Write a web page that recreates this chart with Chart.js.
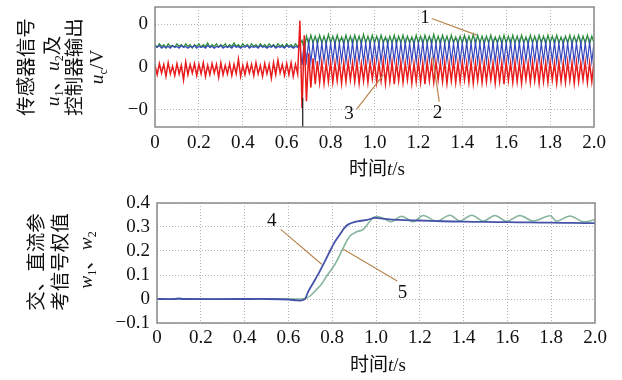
<!DOCTYPE html>
<html><head><meta charset="utf-8">
<script src="https://cdn.jsdelivr.net/npm/chart.js@4"></script>
<style>
html,body{margin:0;padding:0;background:#fff;}
#wrap{position:relative;width:622px;height:380px;overflow:hidden;font-family:"Liberation Serif","Noto Sans CJK SC",serif;color:#111;}
canvas{position:absolute;left:0;}
.yt{position:absolute;white-space:nowrap;font-size:19.5px;line-height:1;transform:translate(-50%,-50%) rotate(-90deg);}
.xt{position:absolute;white-space:nowrap;font-size:19px;line-height:1;transform:translate(-50%,-50%);}
sub{font-size:0.62em;vertical-align:-0.3em;font-style:normal;line-height:0;}
i{font-family:"Liberation Serif",serif;}
</style></head>
<body>
<div id="wrap">
<canvas id="c1" width="622" height="180" style="top:0"></canvas>
<canvas id="c2" width="622" height="200" style="top:180px"></canvas>
<div class="yt" style="left:27px;top:67px">传感器信号</div>
<div class="yt" style="left:53px;top:71px"><i>u</i><sub>1</sub>、<i>u</i><sub>2</sub>及</div>
<div class="yt" style="left:75px;top:67px">控制器输出</div>
<div class="yt" style="left:97px;top:67px"><i>u</i><sub>c</sub>/V</div>
<div class="xt" style="left:377px;top:168px">时间<i>t</i>/s</div>
<div class="yt" style="left:37px;top:262px">交、直流参</div>
<div class="yt" style="left:61px;top:262px">考信号权值</div>
<div class="yt" style="left:86px;top:260px"><i>w</i><sub>1</sub>、<i>w</i><sub>2</sub></div>
<div class="xt" style="left:378px;top:364px">时间<i>t</i>/s</div>
</div>
<script>
// ---------- top plot data ----------
const timeTop = [
0,0.01,0.02,0.03,0.04,0.05,0.06,0.07,0.08,0.09,
0.1,0.11,0.12,0.13,0.14,0.15,0.16,0.17,0.18,0.19,
0.2,0.21,0.22,0.23,0.24,0.25,0.26,0.27,0.28,0.29,
0.3,0.31,0.32,0.33,0.34,0.35,0.36,0.37,0.38,0.39,
0.4,0.41,0.42,0.43,0.44,0.45,0.46,0.47,0.48,0.49,
0.5,0.51,0.52,0.53,0.54,0.55,0.56,0.57,0.58,0.59,
0.6,0.61,0.62,0.63,0.64,0.65,0.66,0.67,0.68,0.69,
0.7,0.71,0.72,0.73,0.74,0.75,0.76,0.77,0.78,0.79,
0.8,0.81,0.82,0.83,0.84,0.85,0.86,0.87,0.88,0.89,
0.9,0.91,0.92,0.93,0.94,0.95,0.96,0.97,0.98,0.99,
1,1.01,1.02,1.03,1.04,1.05,1.06,1.07,1.08,1.09,
1.1,1.11,1.12,1.13,1.14,1.15,1.16,1.17,1.18,1.19,
1.2,1.21,1.22,1.23,1.24,1.25,1.26,1.27,1.28,1.29,
1.3,1.31,1.32,1.33,1.34,1.35,1.36,1.37,1.38,1.39,
1.4,1.41,1.42,1.43,1.44,1.45,1.46,1.47,1.48,1.49,
1.5,1.51,1.52,1.53,1.54,1.55,1.56,1.57,1.58,1.59,
1.6,1.61,1.62,1.63,1.64,1.65,1.66,1.67,1.68,1.69,
1.7,1.71,1.72,1.73,1.74,1.75,1.76,1.77,1.78,1.79,
1.8,1.81,1.82,1.83,1.84,1.85,1.86,1.87,1.88,1.89,
1.9,1.91,1.92,1.93,1.94,1.95,1.96,1.97,1.98,1.99,
2];
// curve 1 (green)
const u1Values = [
0.26,0.23,0.27,0.24,0.26,0.22,0.27,0.24,0.25,0.23,
0.27,0.24,0.26,0.23,0.27,0.24,0.26,0.22,0.26,0.24,
0.27,0.23,0.26,0.24,0.28,0.23,0.26,0.24,0.27,0.23,
0.26,0.24,0.27,0.23,0.26,0.24,0.28,0.24,0.26,0.23,
0.27,0.24,0.26,0.23,0.27,0.24,0.26,0.23,0.27,0.24,
0.26,0.23,0.27,0.24,0.26,0.23,0.27,0.24,0.26,0.23,
0.27,0.24,0.26,0.23,0.27,0.24,0.27,0.31,0.20,0.36,
0.27,0.37,0.28,0.36,0.27,0.37,0.28,0.36,0.27,0.38,
0.28,0.36,0.27,0.37,0.28,0.35,0.27,0.37,0.28,0.36,
0.27,0.37,0.28,0.36,0.27,0.38,0.28,0.36,0.27,0.37,
0.28,0.36,0.27,0.37,0.28,0.35,0.27,0.36,0.28,0.37,
0.27,0.36,0.28,0.37,0.27,0.36,0.28,0.35,0.27,0.37,
0.28,0.36,0.27,0.37,0.28,0.36,0.27,0.38,0.28,0.36,
0.27,0.37,0.28,0.36,0.27,0.37,0.28,0.35,0.27,0.36,
0.28,0.37,0.27,0.36,0.28,0.38,0.27,0.37,0.28,0.36,
0.27,0.36,0.28,0.37,0.27,0.35,0.28,0.36,0.27,0.37,
0.28,0.36,0.27,0.37,0.28,0.36,0.27,0.37,0.28,0.35,
0.27,0.37,0.28,0.36,0.27,0.37,0.28,0.36,0.27,0.37,
0.28,0.36,0.27,0.37,0.28,0.35,0.27,0.36,0.28,0.37,
0.27,0.36,0.28,0.37,0.27,0.36,0.28,0.37,0.27,0.36,
0.28];
// curve 2 (blue)
const u2Values = [
0.24,0.23,0.25,0.22,0.24,0.23,0.24,0.22,0.25,0.23,
0.24,0.22,0.25,0.23,0.24,0.22,0.24,0.23,0.25,0.22,
0.24,0.23,0.24,0.22,0.25,0.23,0.24,0.22,0.24,0.23,
0.25,0.22,0.24,0.23,0.24,0.22,0.25,0.23,0.24,0.22,
0.24,0.23,0.25,0.22,0.24,0.23,0.24,0.22,0.25,0.23,
0.24,0.22,0.24,0.23,0.25,0.22,0.24,0.23,0.24,0.22,
0.25,0.23,0.24,0.22,0.24,0.23,0.26,0.02,0.31,0.07,
0.29,0.06,0.28,0.07,0.29,0.06,0.28,0.07,0.29,0.06,
0.28,0.07,0.29,0.06,0.28,0.07,0.29,0.06,0.28,0.07,
0.29,0.06,0.28,0.07,0.29,0.06,0.28,0.07,0.29,0.06,
0.28,0.07,0.29,0.06,0.28,0.07,0.29,0.06,0.28,0.07,
0.29,0.06,0.28,0.07,0.29,0.06,0.28,0.07,0.29,0.06,
0.28,0.07,0.29,0.06,0.28,0.07,0.29,0.06,0.28,0.07,
0.29,0.06,0.28,0.07,0.29,0.06,0.28,0.07,0.29,0.06,
0.28,0.07,0.29,0.06,0.28,0.07,0.29,0.06,0.28,0.07,
0.29,0.06,0.28,0.07,0.29,0.06,0.28,0.07,0.29,0.06,
0.28,0.07,0.29,0.06,0.28,0.07,0.29,0.06,0.28,0.07,
0.29,0.06,0.28,0.07,0.29,0.06,0.28,0.07,0.29,0.06,
0.28,0.07,0.29,0.06,0.28,0.07,0.29,0.06,0.28,0.07,
0.29,0.06,0.28,0.07,0.29,0.06,0.28,0.07,0.29,0.06,
0.28];
// curve 3 (red)
const ucValues = [
0.02,-0.09,0.04,-0.07,0.03,-0.11,0.05,-0.08,0.01,-0.10,
0.04,-0.08,0.02,-0.15,0.06,-0.09,0.03,-0.07,0.04,-0.10,
0.03,-0.08,0.05,-0.11,0.02,-0.09,0.04,-0.07,0.03,-0.12,
0.05,-0.09,0.02,-0.08,0.04,-0.10,0.03,-0.08,0.09,-0.11,
0.02,-0.09,0.04,-0.07,0.03,-0.10,0.05,-0.08,0.02,-0.11,
0.04,-0.08,0.03,-0.13,0.05,-0.09,0.08,-0.07,0.03,-0.10,
0.04,-0.09,0.05,-0.11,0.03,-0.08,0.54,-0.48,0.37,-0.40,
0.16,-0.24,0.10,-0.20,0.07,-0.18,0.06,-0.19,0.05,-0.17,
0.06,-0.18,0.05,-0.16,0.06,-0.19,0.05,-0.17,0.06,-0.15,
0.05,-0.17,0.06,-0.19,0.04,-0.16,0.06,-0.18,0.05,-0.14,
0.06,-0.18,0.05,-0.16,0.07,-0.19,0.05,-0.17,0.06,-0.20,
0.05,-0.16,0.06,-0.18,0.05,-0.15,0.06,-0.19,0.04,-0.17,
0.06,-0.18,0.05,-0.20,0.06,-0.16,0.05,-0.18,0.06,-0.15,
0.05,-0.17,0.06,-0.19,0.05,-0.16,0.07,-0.18,0.05,-0.17,
0.06,-0.15,0.05,-0.18,0.06,-0.19,0.05,-0.16,0.06,-0.18,
0.05,-0.17,0.06,-0.15,0.05,-0.19,0.06,-0.17,0.05,-0.20,
0.06,-0.16,0.05,-0.18,0.06,-0.17,0.05,-0.19,0.06,-0.15,
0.05,-0.18,0.06,-0.16,0.05,-0.19,0.06,-0.17,0.05,-0.18,
0.06,-0.15,0.05,-0.19,0.06,-0.17,0.05,-0.18,0.06,-0.16,
0.05,-0.19,0.06,-0.17,0.05,-0.15,0.06,-0.18,0.05,-0.17,
0.06];
// dark spike at switching instant
const spikeTime = [0.673, 0.673];
const spikeValues = [-0.36, -0.70];

// ---------- bottom plot data ----------
// curve 4 (blue)
const w1Time = [0,0.08,0.1,0.12,0.4,0.5,0.6,0.64,0.66,0.676,0.69,0.714,0.74,0.76,0.79,0.81,0.836,0.855,0.874,0.9,0.927,0.96,0.995,1.05,1.1,1.2,1.3,1.4,1.5,1.6,1.7,1.8,1.9,2.0];
const w1Values = [0,0,0.002,0,0,0,-0.002,-0.006,-0.006,0,0.03,0.068,0.11,0.145,0.2,0.235,0.27,0.295,0.311,0.32,0.325,0.33,0.338,0.333,0.33,0.327,0.324,0.322,0.321,0.32,0.319,0.318,0.317,0.316];
// curve 5 (green)
const w2Time = [0,0.6,0.66,0.68,0.699,0.729,0.75,0.775,0.813,0.851,0.881,0.912,0.942,0.973,0.995,1.026,1.07,1.117,1.17,1.216,1.277,1.338,1.383,1.437,1.49,1.543,1.597,1.657,1.718,1.795,1.825,1.886,1.946,2.0];
const w2Values = [0,0,0,0.003,0.0125,0.04,0.06,0.096,0.145,0.214,0.2625,0.28,0.29,0.325,0.343,0.339,0.322,0.345,0.322,0.348,0.324,0.349,0.325,0.349,0.325,0.348,0.324,0.348,0.325,0.347,0.324,0.346,0.322,0.33];

// ---------- ticks ----------
const xTickValues = [0,0.2,0.4,0.6,0.8,1.0,1.2,1.4,1.6,1.8,2.0];
const xTickLabels = ['0','0.2','0.4','0.6','0.8','1.0','1.2','1.4','1.6','1.8','2.0'];
const yTopTickValues = [-0.5,0,0.5];
const yTopTickLabels = ['\u22120','0','0'];
const yBotTickValues = [-0.1,0,0.1,0.2,0.3,0.4];
const yBotTickLabels = ['\u22120.1','0','0.1','0.2','0.3','0.4'];

// ---------- callout annotations (data units) ----------
const topCallouts = [
  {label:'1', tx:1.230, ty:0.576, x1:1.261, y1:0.566, x2:1.466, y2:0.372},
  {label:'2', tx:1.287, ty:-0.541, x1:1.295, y1:-0.403, x2:1.265, y2:0.113},
  {label:'3', tx:0.884, ty:-0.547, x1:0.919, y1:-0.492, x2:1.040, y2:-0.093}
];
const botCallouts = [
  {label:'4', tx:0.524, ty:0.325, x1:0.565, y1:0.290, x2:0.752, y2:0.145},
  {label:'5', tx:1.121, ty:0.027, x1:1.097, y1:0.075, x2:0.851, y2:0.207}
];

const pts = (ts, vs) => ts.map((t, i) => ({x: t, y: vs[i]}));
const tickFont = {family: 'Liberation Serif', size: 19};

const framePlugin = {
  id: 'frame',
  afterDatasetsDraw(chart) {
    const {ctx, chartArea: a} = chart;
    ctx.save();
    ctx.strokeStyle = '#8a8a8a';
    ctx.lineWidth = 1.5;
    ctx.strokeRect(a.left, a.top, a.right - a.left, a.bottom - a.top);
    ctx.restore();
  }
};
const calloutPlugin = {
  id: 'callouts',
  afterDatasetsDraw(chart, args, opts) {
    const xs = chart.scales.x, ys = chart.scales.y, ctx = chart.ctx;
    ctx.save();
    ctx.strokeStyle = '#b8864f';
    ctx.lineWidth = 1.2;
    ctx.fillStyle = '#111';
    ctx.font = '19px "Liberation Serif"';
    ctx.textAlign = 'center';
    ctx.textBaseline = 'middle';
    for (const c of opts.items) {
      ctx.beginPath();
      ctx.moveTo(xs.getPixelForValue(c.x1), ys.getPixelForValue(c.y1));
      ctx.lineTo(xs.getPixelForValue(c.x2), ys.getPixelForValue(c.y2));
      ctx.stroke();
      ctx.fillText(c.label, xs.getPixelForValue(c.tx), ys.getPixelForValue(c.ty));
    }
    ctx.restore();
  }
};

function xScale(height, pad) {
  return {
    type: 'linear', min: 0, max: 2,
    afterBuildTicks: s => { s.ticks = xTickValues.map(v => ({value: v})); },
    ticks: {callback: (v, i) => xTickLabels[i], color: '#111', font: tickFont, padding: pad, maxRotation: 0, autoSkip: false},
    grid: {color: '#b4b4b4', lineWidth: 1, drawTicks: false},
    border: {display: false, dash: [1, 2]},
    afterFit: s => { s.height = height; s.paddingLeft = 0; s.paddingRight = 0; }
  };
}
function yScale(width, min, max, vals, labels) {
  return {
    type: 'linear', min: min, max: max,
    afterBuildTicks: s => { s.ticks = vals.map(v => ({value: v})); },
    ticks: {callback: (v, i) => labels[i], color: '#111', font: tickFont, padding: 7, autoSkip: false},
    grid: {color: '#b4b4b4', lineWidth: 1, drawTicks: false},
    border: {display: false, dash: [1, 2]},
    afterFit: s => { s.width = width; s.paddingTop = 0; s.paddingBottom = 0; }
  };
}
const common = {
  responsive: false, animation: false, devicePixelRatio: 1,
  elements: {point: {radius: 0}, line: {tension: 0, fill: false}},
};

new Chart(document.getElementById('c1'), {
  type: 'line',
  data: {datasets: [
    {data: pts(spikeTime, spikeValues), borderColor: '#1a1a1a', borderWidth: 1.2},
    {data: pts(timeTop, ucValues), borderColor: '#e81c1c', borderWidth: 1.5},
    {data: pts(timeTop, u2Values), borderColor: '#3545bb', borderWidth: 1.2},
    {data: pts(timeTop, u1Values), borderColor: '#2a8a3a', borderWidth: 1.3}
  ]},
  options: Object.assign({}, common, {
    layout: {padding: {left: 0, right: 28, top: 7, bottom: 0}},
    plugins: {legend: {display: false}, tooltip: {enabled: false}, callouts: {items: topCallouts}},
    scales: {x: xScale(53, 5), y: yScale(155, -0.7, 0.7, yTopTickValues, yTopTickLabels)}
  }),
  plugins: [framePlugin, calloutPlugin]
});

new Chart(document.getElementById('c2'), {
  type: 'line',
  data: {datasets: [
    {data: pts(w1Time, w1Values), borderColor: '#4452a8', borderWidth: 1.8, tension: 0.3},
    {data: pts(w2Time, w2Values), borderColor: '#86b59c', borderWidth: 1.6, tension: 0.35}
  ]},
  options: Object.assign({}, common, {
    layout: {padding: {left: 0, right: 27, top: 23, bottom: 0}},
    plugins: {legend: {display: false}, tooltip: {enabled: false}, callouts: {items: botCallouts}},
    scales: {x: xScale(57, 4), y: yScale(157, -0.1, 0.4, yBotTickValues, yBotTickLabels)}
  }),
  plugins: [framePlugin, calloutPlugin]
});
</script>
</body></html>
